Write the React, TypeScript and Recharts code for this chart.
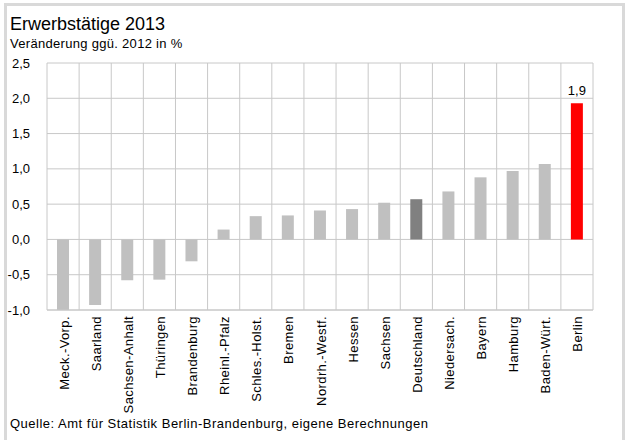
import React from "react";
import {
  BarChart,
  Bar,
  XAxis,
  YAxis,
  CartesianGrid,
  Cell,
  LabelList,
} from "recharts";

const laender = [
  "Meck.-Vorp.",
  "Saarland",
  "Sachsen-Anhalt",
  "Thüringen",
  "Brandenburg",
  "Rheinl.-Pfalz",
  "Schles.-Holst.",
  "Bremen",
  "Nordrh.-Westf.",
  "Hessen",
  "Sachsen",
  "Deutschland",
  "Niedersach.",
  "Bayern",
  "Hamburg",
  "Baden-Würt.",
  "Berlin",
];

const veraenderung = [
  -1.0, -0.93, -0.58, -0.57, -0.31, 0.14, 0.33, 0.34, 0.41, 0.43, 0.52, 0.57,
  0.68, 0.88, 0.97, 1.07, 1.93,
];

const barLabels = ["", "", "", "", "", "", "", "", "", "", "", "", "", "", "", "", "1,9"];

const yTicks = [-1.0, -0.5, 0, 0.5, 1.0, 1.5, 2.0, 2.5];

const FONT = '"Liberation Sans", Arial, sans-serif';

const data = laender.map((land, i) => ({
  land,
  wert: veraenderung[i],
  label: barLabels[i],
}));

function barColor(land: string) {
  if (land === "Berlin") return "#ff0000";
  if (land === "Deutschland") return "#808080";
  return "#c0c0c0";
}

const fmt = (v: number) => v.toFixed(1).replace(".", ",");

// x-axis tick y already sits below the axis line; start the text ~6px under the plot
function RotatedTick({ x, y, payload }: any) {
  return (
    <text
      transform={`translate(${x + 1},${y - 2}) rotate(-90)`}
      textAnchor="end"
      dominantBaseline="central"
      fontSize={13}
      letterSpacing={0.4}
      fontFamily={FONT}
      fill="#000"
    >
      {payload.value}
    </text>
  );
}

export default function App() {
  return (
    <div
      style={{
        position: "absolute",
        left: 0,
        top: 0,
        width: 629,
        height: 440,
        background: "#fff",
        overflow: "hidden",
        fontFamily: FONT,
      }}
    >
      <div
        style={{
          position: "absolute",
          left: 4,
          top: 3,
          width: 615,
          height: 450,
          border: "3px solid #d9d9d9",
        }}
      />
      <div
        style={{
          position: "absolute",
          left: 10,
          top: 14,
          fontSize: 18,
          lineHeight: "20px",
          color: "#000",
        }}
      >
        Erwerbstätige 2013
      </div>
      <div
        style={{
          position: "absolute",
          left: 10,
          top: 37,
          fontSize: 13,
          lineHeight: "14px",
          color: "#000",
          letterSpacing: 0.3,
        }}
      >
        Veränderung ggü. 2012 in %
      </div>
      <div style={{ position: "absolute", left: 0, top: 0 }}>
        <BarChart
          width={629}
          height={440}
          data={data}
          margin={{ top: 63, right: 36, bottom: 30, left: 7 }}
        >
          <CartesianGrid
            stroke="#c8c8c8"
            strokeWidth={1}
            verticalCoordinatesGenerator={({ offset }: any) =>
              data.map(
                (_, i) => offset.left + ((i + 1) * offset.width) / data.length,
              )
            }
          />
          <XAxis
            dataKey="land"
            interval={0}
            height={100}
            tick={<RotatedTick />}
            tickLine={false}
            axisLine={{ stroke: "#c8c8c8" }}
          />
          <YAxis
            width={40}
            domain={[-1, 2.5]}
            ticks={yTicks}
            tickFormatter={fmt}
            tick={{ fontSize: 13, fill: "#000", fontFamily: FONT }}
            tickLine={false}
            axisLine={{ stroke: "#c8c8c8" }}
            tickMargin={11}
          />
          <Bar dataKey="wert" barSize={12} isAnimationActive={false}>
            {data.map((d) => (
              <Cell key={d.land} fill={barColor(d.land)} />
            ))}
            <LabelList
              dataKey="label"
              position="top"
              offset={8}
              fontSize={13}
              fontFamily={FONT}
              fill="#000"
            />
          </Bar>
        </BarChart>
      </div>
      <div
        style={{
          position: "absolute",
          left: 10,
          top: 416,
          fontSize: 13,
          lineHeight: "15px",
          color: "#000",
          letterSpacing: 0.5,
        }}
      >
        Quelle: Amt für Statistik Berlin-Brandenburg, eigene Berechnungen
      </div>
    </div>
  );
}
